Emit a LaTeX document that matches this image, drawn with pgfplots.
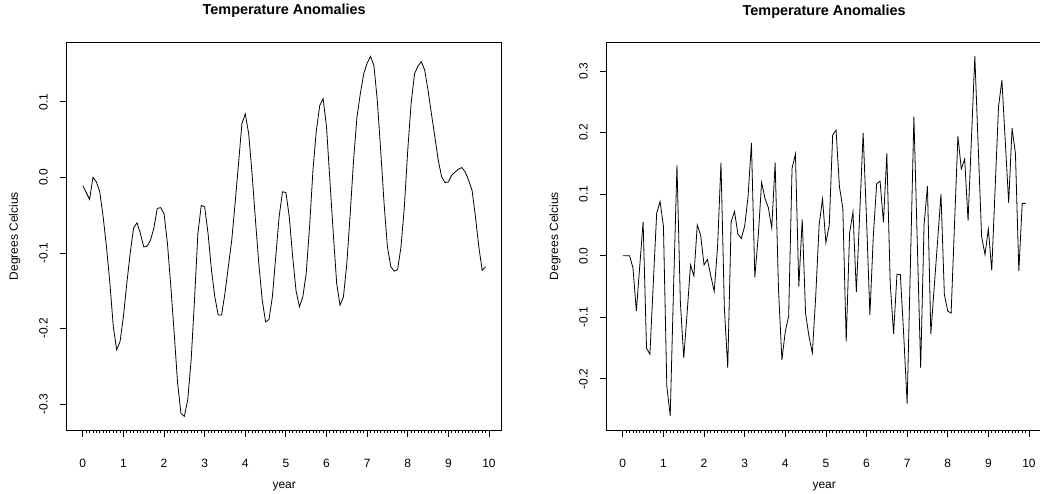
\documentclass[border=0pt]{standalone}
\usepackage{fontspec}
\setmainfont{Liberation Sans}
\usepackage{pgfplots}
\pgfplotsset{compat=1.18}

% R-style panel: box, outside ticks, labels parallel to the axis
\pgfplotsset{
  rpanel/.style={
    scale only axis, width=435pt, height=388pt, anchor=south west,
    xmin=-0.3967, xmax=10.3133,
    xtick={0,1,2,3,4,5,6,7,8,9,10}, minor x tick num=11,
    xtick pos=bottom, ytick pos=left, tick align=outside,
    major tick length=7pt, minor tick length=2.5pt,
    every tick/.style={black, line width=0.8pt},
    axis line style={line width=0.8pt},
    /pgf/number format/assume math mode=true,
    tick label style={font=\fontsize{12}{14}\selectfont},
    xticklabel style={anchor=base, yshift=-30pt},
    yticklabel style={rotate=90, anchor=base, /pgf/number format/.cd, fixed, fixed zerofill, precision=1},
    yticklabel shift=12pt,
    title={Temperature Anomalies},
    title style={at={(axis description cs:0.5,1)}, anchor=base, yshift=21pt, font=\bfseries\fontsize{14.4}{17}\selectfont},
    xlabel={year},
    xlabel style={at={(axis description cs:0.5,0)}, anchor=base, yshift=-58pt, font=\fontsize{12}{14}\selectfont},
    ylabel={Degrees Celcius},
    ylabel style={at={(axis description cs:-0.11195,0.5)}, anchor=base, font=\fontsize{12}{14}\selectfont},
  }
}

\begin{document}
\begin{tikzpicture}
\path[use as bounding box] (0,0) rectangle (1040pt,493pt);
\clip (0,0) rectangle (1040pt,493pt);

\begin{axis}[rpanel, at={(66.7pt,63pt)},
  ymin=-0.334, ymax=0.179, ytick={-0.3,-0.2,-0.1,0,0.1}]
\addplot[black, line width=0.8pt] coordinates {
(0,-0.011) (0.0833,-0.020) (0.1667,-0.029) (0.25,0.000) (0.3333,-0.006) (0.4167,-0.019) (0.5,-0.052) (0.5833,-0.092) (0.6667,-0.140) (0.75,-0.197) (0.8333,-0.228) (0.9167,-0.217)
(1,-0.184) (1.0833,-0.140) (1.1667,-0.100) (1.25,-0.067) (1.3333,-0.060) (1.4167,-0.074) (1.5,-0.092) (1.5833,-0.091) (1.6667,-0.083) (1.75,-0.067) (1.8333,-0.041) (1.9167,-0.040)
(2,-0.048) (2.0833,-0.087) (2.1667,-0.144) (2.25,-0.206) (2.3333,-0.272) (2.4167,-0.312) (2.5,-0.316) (2.5833,-0.294) (2.6667,-0.242) (2.75,-0.162) (2.8333,-0.074) (2.9167,-0.037)
(3,-0.039) (3.0833,-0.074) (3.1667,-0.122) (3.25,-0.158) (3.3333,-0.182) (3.4167,-0.182) (3.5,-0.153) (3.5833,-0.118) (3.6667,-0.083) (3.75,-0.034) (3.8333,0.018) (3.9167,0.071)
(4,0.084) (4.0833,0.058) (4.1667,0.005) (4.25,-0.056) (4.3333,-0.114) (4.4167,-0.162) (4.5,-0.191) (4.5833,-0.188) (4.6667,-0.158) (4.75,-0.105) (4.8333,-0.052) (4.9167,-0.019)
(5,-0.020) (5.0833,-0.052) (5.1667,-0.105) (5.25,-0.150) (5.3333,-0.171) (5.4167,-0.158) (5.5,-0.127) (5.5833,-0.065) (5.6667,0.010) (5.75,0.062) (5.8333,0.095) (5.9167,0.104)
(6,0.067) (6.0833,-0.004) (6.1667,-0.074) (6.25,-0.140) (6.3333,-0.169) (6.4167,-0.158) (6.5,-0.114) (6.5833,-0.048) (6.6667,0.023) (6.75,0.080) (6.8333,0.111) (6.9167,0.137)
(7,0.151) (7.0833,0.160) (7.1667,0.148) (7.25,0.102) (7.3333,0.036) (7.4167,-0.034) (7.5,-0.092) (7.5833,-0.118) (7.6667,-0.124) (7.75,-0.122) (7.8333,-0.092) (7.9167,-0.039)
(8,0.036) (8.0833,0.098) (8.1667,0.137) (8.25,0.147) (8.3333,0.153) (8.4167,0.142) (8.5,0.115) (8.5833,0.084) (8.6667,0.054) (8.75,0.023) (8.8333,0.001) (8.9167,-0.007)
(9,-0.006) (9.0833,0.003) (9.1667,0.007) (9.25,0.011) (9.3333,0.013) (9.4167,0.007) (9.5,-0.004) (9.5833,-0.017) (9.6667,-0.052) (9.75,-0.092) (9.8333,-0.123) (9.9167,-0.118)
};
\end{axis}

\begin{axis}[rpanel, at={(606.7pt,63pt)},
  ymin=-0.283, ymax=0.347, ytick={-0.2,-0.1,0,0.1,0.2,0.3}]
\addplot[black, line width=0.8pt] coordinates {
(0,0) (0.0833,0) (0.1667,0) (0.25,-0.020) (0.3333,-0.090) (0.4167,-0.017) (0.5,0.055) (0.5833,-0.150) (0.6667,-0.160) (0.75,-0.045) (0.8333,0.069) (0.9167,0.088)
(1,0.048) (1.0833,-0.212) (1.1667,-0.260) (1.25,-0.050) (1.3333,0.147) (1.4167,-0.075) (1.5,-0.166) (1.5833,-0.093) (1.6667,-0.015) (1.75,-0.033) (1.8333,0.050) (1.9167,0.033)
(2,-0.015) (2.0833,-0.006) (2.1667,-0.033) (2.25,-0.058) (2.3333,0.015) (2.4167,0.151) (2.5,-0.085) (2.5833,-0.182) (2.6667,0.055) (2.75,0.072) (2.8333,0.035) (2.9167,0.028)
(3,0.048) (3.0833,0.096) (3.1667,0.183) (3.25,-0.035) (3.3333,0.031) (3.4167,0.119) (3.5,0.093) (3.5833,0.078) (3.6667,0.045) (3.75,0.151) (3.8333,-0.055) (3.9167,-0.169)
(4,-0.123) (4.0833,-0.098) (4.1667,0.142) (4.25,0.165) (4.3333,-0.050) (4.4167,0.059) (4.5,-0.094) (4.5833,-0.131) (4.6667,-0.158) (4.75,-0.065) (4.8333,0.050) (4.9167,0.092)
(5,0.021) (5.0833,0.050) (5.1667,0.196) (5.25,0.204) (5.3333,0.112) (5.4167,0.077) (5.5,-0.139) (5.5833,0.037) (5.6667,0.071) (5.75,-0.059) (5.8333,0.070) (5.9167,0.199)
(6,0.060) (6.0833,-0.096) (6.1667,0.031) (6.25,0.117) (6.3333,0.121) (6.4167,0.054) (6.5,0.166) (6.5833,-0.044) (6.6667,-0.127) (6.75,-0.030) (6.8333,-0.031) (6.9167,-0.130)
(7,-0.240) (7.0833,-0.007) (7.1667,0.226) (7.25,0.020) (7.3333,-0.182) (7.4167,0.050) (7.5,0.113) (7.5833,-0.127) (7.6667,-0.051) (7.75,0.024) (7.8333,0.100) (7.9167,-0.063)
(8,-0.090) (8.0833,-0.093) (8.1667,0.051) (8.25,0.194) (8.3333,0.141) (8.4167,0.157) (8.5,0.057) (8.5833,0.190) (8.6667,0.324) (8.75,0.177) (8.8333,0.031) (8.9167,0.002)
(9,0.043) (9.0833,-0.024) (9.1667,0.110) (9.25,0.242) (9.3333,0.285) (9.4167,0.185) (9.5,0.086) (9.5833,0.207) (9.6667,0.166) (9.75,-0.025) (9.8333,0.085) (9.9167,0.085)
};
\end{axis}
\end{tikzpicture}
\end{document}
